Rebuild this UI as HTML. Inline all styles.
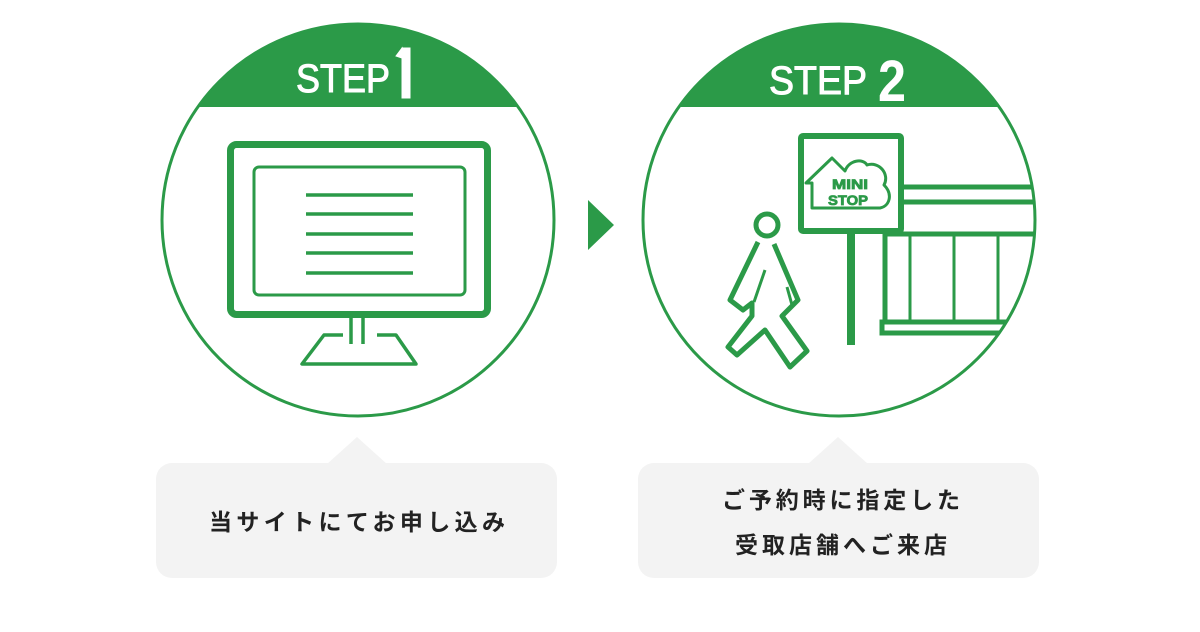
<!DOCTYPE html>
<html><head><meta charset="utf-8"><style>
html,body{margin:0;padding:0;background:#fff;}
svg{display:block}
</style></head><body>
<svg width="1200" height="632" viewBox="0 0 1200 632" xmlns="http://www.w3.org/2000/svg">
<defs>
<clipPath id="c1"><circle cx="358" cy="220" r="197"/></clipPath>
<clipPath id="c2"><circle cx="839" cy="220" r="197"/></clipPath>
</defs>
<g fill="none" stroke="#2b9a48">
<rect x="150" y="10" width="420" height="97" fill="#2b9a48" stroke="none" clip-path="url(#c1)"/>
<circle cx="358" cy="220" r="196" stroke-width="3"/>
<rect x="230.5" y="144.5" width="257" height="170" rx="6" stroke-width="7"/>
<rect x="254" y="167" width="211" height="128" rx="5" stroke-width="3"/>
<g stroke-width="3.5"><line x1="306" y1="195" x2="413" y2="195"/><line x1="306" y1="214" x2="413" y2="214"/><line x1="306" y1="234" x2="413" y2="234"/><line x1="306" y1="253" x2="413" y2="253"/><line x1="306" y1="273" x2="413" y2="273"/></g>
<g stroke-width="3.5" stroke-linejoin="round">
<line x1="351" y1="318" x2="351" y2="344"/><line x1="363" y1="318" x2="363" y2="344"/>
<path d="M343,335 L324,335 L302,364 L416,364 L396,335 L377,335"/>
</g>
<rect x="630" y="10" width="420" height="97" fill="#2b9a48" stroke="none" clip-path="url(#c2)"/>
<g clip-path="url(#c2)">
<g stroke-width="5">
<line x1="902" y1="187" x2="1040" y2="187"/><line x1="902" y1="202" x2="1040" y2="202"/>
<line x1="885" y1="234" x2="1040" y2="234"/>
<line x1="885" y1="234" x2="885" y2="322"/>
<rect x="882" y="322" width="160" height="11" stroke-width="5"/>
</g>
<g stroke-width="3"><line x1="910" y1="234" x2="910" y2="322"/><line x1="954" y1="234" x2="954" y2="322"/><line x1="998" y1="234" x2="998" y2="322"/></g>
</g>
<circle cx="839" cy="220" r="196" stroke-width="3"/>
<rect x="801" y="136" width="100" height="95" rx="2" stroke-width="6"/>
<line x1="851" y1="231" x2="851" y2="345" stroke-width="8"/>
<path d="M812,208 L812,183 L806,183 L832,158 L845,171 C849,160 863,158 867,165 C879,161 890,174 884,185 C893,194 890,206 880,208 Z" stroke-width="3" stroke-linejoin="round"/>
<g stroke-width="5" stroke-linejoin="round">
<circle cx="767" cy="225" r="11"/>
<path d="M758,242 L730,300 L743,310 L752,303 L752,316 L728,347 L737,355 L765,330 L790,367 L807,351 L782,316 L798,300 L774,244"/>
</g>
<g stroke-width="3"><line x1="765" y1="270" x2="754" y2="302"/><line x1="787" y1="287" x2="792" y2="305"/></g>
</g>
<g font-family="Liberation Sans, sans-serif" font-weight="bold" fill="#2b9a48" stroke="#2b9a48" stroke-width="0.8" text-anchor="middle">
<text x="850" y="189" font-size="14" textLength="36" lengthAdjust="spacingAndGlyphs">MINI</text>
<text x="848" y="205" font-size="14" textLength="40" lengthAdjust="spacingAndGlyphs">STOP</text>
</g>
<g font-family="Liberation Sans, sans-serif" fill="#fff" stroke="#fff" stroke-width="1">
<text x="296" y="92" font-size="40" textLength="94" lengthAdjust="spacingAndGlyphs">STEP</text>
<rect x="402" y="48" width="8" height="50"/><path d="M396,56 L402,48 L402,58 Z"/>
<text x="769" y="94" font-size="40" textLength="98" lengthAdjust="spacingAndGlyphs">STEP</text>
<text x="878" y="101" font-size="58" font-weight="bold" stroke-width="0" textLength="28" lengthAdjust="spacingAndGlyphs">2</text>
</g>
<path d="M588,200 L614,225 L588,250 Z" fill="#2b9a48"/>
<g fill="#f3f3f3">
<rect x="156" y="463" width="401" height="115" rx="16"/>
<path d="M327,464 L357,437 L387,464 Z"/>
<rect x="638" y="463" width="401" height="115" rx="16"/>
<path d="M808,464 L838,437 L868,464 Z"/>
</g>
<g font-family="Liberation Sans, 'Noto Sans CJK JP', sans-serif" font-weight="bold" font-size="23" fill="#222" text-anchor="middle">
<text x="357" y="530" textLength="296" lengthAdjust="spacing">当サイトにてお申し込み</text>
<text x="841" y="508" textLength="238" lengthAdjust="spacing">ご予約時に指定した</text>
<text x="841" y="553" textLength="212" lengthAdjust="spacing">受取店舗へご来店</text>
</g>
</svg>
</body></html>
